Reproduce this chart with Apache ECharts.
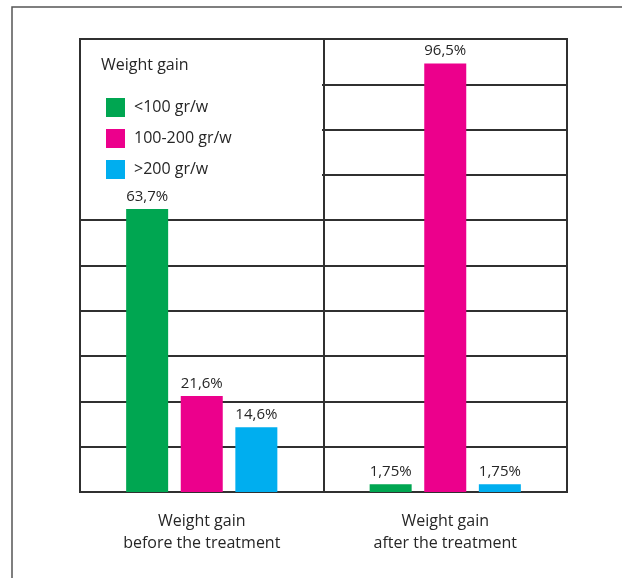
<!DOCTYPE html>
<html>
<head>
<meta charset="utf-8">
<script src="https://cdn.jsdelivr.net/npm/echarts@6/dist/echarts.min.js"></script>
<style>
    html, body { margin: 0; padding: 0; background: #fff; }
    #main { width: 622px; height: 578px; }
</style>
</head>
<body>
<div id="main"></div>
<script>
    // categories and values
    var categories = ['Weight gain\nbefore the treatment', 'Weight gain\nafter the treatment'];
    var seriesNames = ['<100 gr/w', '100-200 gr/w', '>200 gr/w'];
    var lowGain = [63.7, 1.75];
    var midGain = [21.6, 96.5];
    var highGain = [14.6, 1.75];
    var colors = ['#00a651', '#ec008c', '#00aeef'];

    var fontFamily = '"Open Sans", "Noto Sans", sans-serif';
    var lineColor = '#303030';
    var textColor = '#262626';

    function pctLabel(p) {
        return String(p.value).replace('.', ',') + '%';
    }

    function makeSeries(name, values) {
        return {
            name: name,
            type: 'bar',
            yAxisIndex: 0,
            barWidth: 42,
            barGap: '30%',
            z: 3,
            label: {
                show: true,
                position: 'top',
                distance: 5,
                color: textColor,
                fontSize: 15,
                fontFamily: fontFamily,
                formatter: pctLabel
            },
            data: values
        };
    }

    var myChart = echarts.init(document.getElementById('main'));
    var option = {
        color: colors,
        animation: false,
        title: {
            text: 'Weight gain',
            left: 96,
            top: 52,
            textStyle: {
                color: textColor,
                fontSize: 16,
                fontWeight: 'normal',
                fontFamily: fontFamily
            }
        },
        legend: {
            orient: 'vertical',
            left: 101,
            top: 93,
            itemWidth: 19,
            itemHeight: 19,
            itemGap: 12,
            icon: 'rect',
            data: seriesNames,
            textStyle: {
                color: textColor,
                fontSize: 16,
                fontFamily: fontFamily,
                padding: [0, 0, 0, 4]
            }
        },
        graphic: [
            {
                // outer frame
                type: 'rect',
                z: 0,
                shape: { x: 12, y: 7, width: 700, height: 700 },
                style: { fill: 'none', stroke: '#555', lineWidth: 1.5 }
            },
            {
                // blank area behind the legend
                type: 'rect',
                z: 1,
                shape: { x: 81, y: 40, width: 241, height: 178 },
                style: { fill: '#fff' }
            }
        ],
        grid: {
            left: 80,
            top: 39,
            right: 55,
            bottom: 86,
            show: true,
            borderColor: lineColor,
            borderWidth: 2,
            z: 0
        },
        xAxis: {
            type: 'category',
            data: categories,
            axisLine: { lineStyle: { color: lineColor, width: 2 } },
            axisTick: { show: false },
            splitLine: { show: true, lineStyle: { color: lineColor, width: 2 } },
            axisLabel: {
                color: textColor,
                fontSize: 16,
                fontFamily: fontFamily,
                lineHeight: 22,
                margin: 18
            }
        },
        yAxis: [
            {
                type: 'value',
                min: 0,
                max: 102,
                axisLine: { show: false },
                axisTick: { show: false },
                axisLabel: { show: false },
                splitLine: { show: false }
            },
            {
                // grid lines only
                type: 'value',
                min: 0,
                max: 10,
                interval: 1,
                position: 'left',
                axisLine: { show: false },
                axisTick: { show: false },
                axisLabel: { show: false },
                splitLine: { show: true, lineStyle: { color: lineColor, width: 2 } }
            }
        ],
        series: [
            makeSeries(seriesNames[0], lowGain),
            makeSeries(seriesNames[1], midGain),
            makeSeries(seriesNames[2], highGain)
        ]
    };
    myChart.setOption(option);
</script>
</body>
</html>
